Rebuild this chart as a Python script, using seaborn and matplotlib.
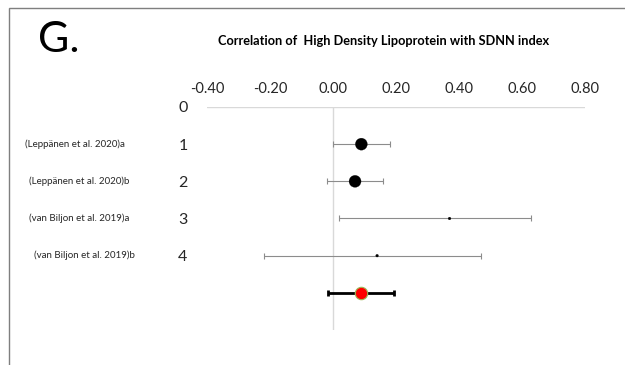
import matplotlib
matplotlib.use("Agg")
import matplotlib.pyplot as plt
import matplotlib.transforms as mtransforms
import seaborn as sns
import pandas as pd
from matplotlib.patches import Rectangle

# Study-level correlations (r) with 95% confidence limits
studies = ["(Leppänen et al. 2020)a", "(Leppänen et al. 2020)b",
           "(van Biljon et al. 2019)a", "(van Biljon et al. 2019)b"]
row_pos = [1, 2, 3, 4]
estimate = [0.09, 0.07, 0.37, 0.14]
lower = [0.00, -0.02, 0.02, -0.22]
upper = [0.18, 0.16, 0.63, 0.47]
marker_size = [75, 75, 4, 4]

# Pooled estimate
pooled_pos = 5
pooled_est = 0.09
pooled_lo = -0.015
pooled_hi = 0.195

x_ticks = [-0.40, -0.20, 0.00, 0.20, 0.40, 0.60, 0.80]
y_ticks = [0, 1, 2, 3, 4]

sns.set_style("white")
plt.rcParams["font.family"] = ["Lato", "DejaVu Sans"]

df = pd.DataFrame({"study": studies, "row": row_pos, "r": estimate,
                   "lo": lower, "hi": upper, "size": marker_size})

fig = plt.figure(figsize=(6.25, 3.65), dpi=100)
ax = fig.add_axes([207 / 625, 1 - 330 / 365, 378 / 625, 223 / 365])

# frame around the panel
fig.patches.append(Rectangle((8.5 / 625, -0.1), 1.2, 1.1 - 8.5 / 365,
                             transform=fig.transFigure, fill=False,
                             edgecolor="#7f7f7f", linewidth=1.0))

# reference lines
ax.plot([-0.40, 0.80], [0, 0], color="#d9d9d9", lw=1.0, zorder=1)
ax.plot([0, 0], [0, 6], color="#d9d9d9", lw=1.0, zorder=1)

# confidence intervals for individual studies
ax.errorbar(df["r"], df["row"],
            xerr=[df["r"] - df["lo"], df["hi"] - df["r"]],
            fmt="none", ecolor="#8c8c8c", elinewidth=0.8,
            capsize=2.5, capthick=0.8, zorder=2)
sns.scatterplot(data=df, x="r", y="row", size="size", sizes=(4, 75),
                color="black", edgecolor="black", legend=False, ax=ax,
                zorder=3)

# pooled estimate
ax.errorbar([pooled_est], [pooled_pos],
            xerr=[[pooled_est - pooled_lo], [pooled_hi - pooled_est]],
            fmt="none", ecolor="black", elinewidth=2.0,
            capsize=2, capthick=2.0, zorder=2)
sns.scatterplot(x=[pooled_est], y=[pooled_pos], color="#ff0000",
                edgecolor="#9bbb59", linewidth=0.8, s=80, legend=False,
                ax=ax, zorder=3)

ax.set_xlim(-0.40, 0.80)
ax.set_ylim(6, 0)
for s in ax.spines.values():
    s.set_visible(False)

ax.xaxis.tick_top()
ax.set_xticks(x_ticks)
ax.set_xticklabels([f"{v:.2f}" for v in x_ticks], fontsize=10.5,
                   color="#262626")
ax.tick_params(axis="x", length=0, pad=8)
ax.set_yticks(y_ticks)
ax.set_yticklabels([str(v) for v in y_ticks], fontsize=11.5,
                   color="#262626")
ax.tick_params(axis="y", length=0, pad=14)
ax.set_xlabel("")
ax.set_ylabel("")

# study names to the left of the row numbers
name_tr = mtransforms.blended_transform_factory(fig.transFigure, ax.transData)
name_x = [25, 29, 29, 34]
for name, r, px in zip(studies, row_pos, name_x):
    ax.text(px / 625, r, name, transform=name_tr,
            fontsize=7.0, ha="left", va="center", color="#262626")

fig.text(38 / 625, 1 - 40 / 365, "G.", fontsize=31, ha="left",
         va="center", color="black")
fig.text(384 / 625, 1 - 41 / 365,
         "Correlation of  High Density Lipoprotein with SDNN index",
         fontsize=9.2, fontweight="bold", ha="center", va="center",
         color="black")

fig.savefig("out.png", dpi=100)
